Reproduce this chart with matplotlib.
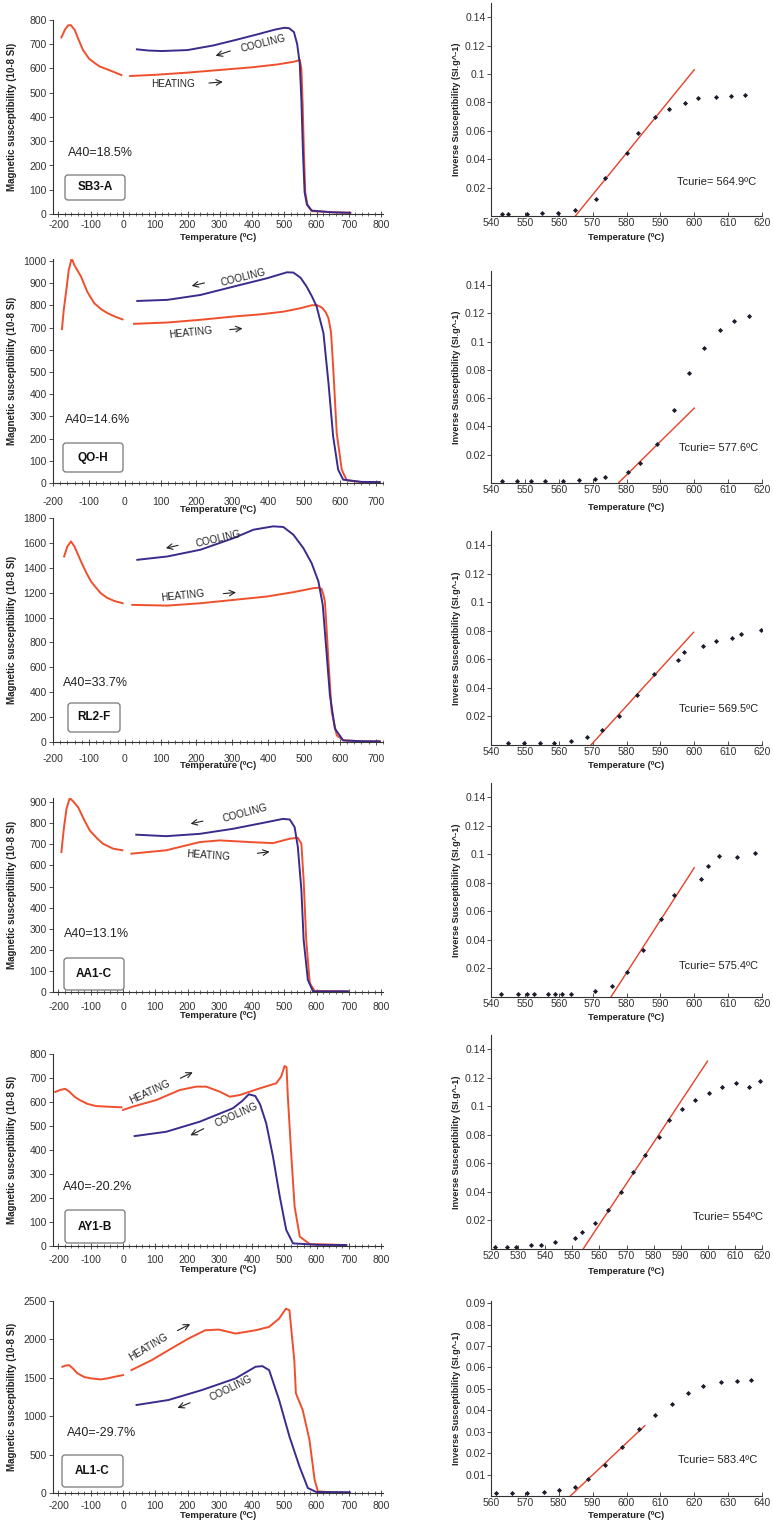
import matplotlib.pyplot as plt
from matplotlib.patches import FancyBboxPatch
from matplotlib.ticker import MultipleLocator
from matplotlib.transforms import IdentityTransform

plt.rcParams['font.family'] = ['Liberation Sans', 'DejaVu Sans']
plt.rcParams['axes.unicode_minus'] = False

W, H = 773, 1521
RED = '#ef4f2c'
BLUE = '#3b2b8c'
DOT = '#1c1c2c'

samples = ['SB3-A', 'QO-H', 'RL2-F', 'AA1-C', 'AY1-B', 'AL1-C']
a40_labels = ['A40=18.5%', 'A40=14.6%', 'A40=33.7%', 'A40=13.1%', 'A40=-20.2%', 'A40=-29.7%']
tcurie_labels = ['Tcurie= 564.9ºC', 'Tcurie= 577.6ºC', 'Tcurie= 569.5ºC',
                 'Tcurie= 575.4ºC', 'Tcurie= 554ºC', 'Tcurie= 583.4ºC']

# k-T curves (temperature ºC, susceptibility 10-8 SI)
sb3_low = [(-191, 728), (-180, 760), (-170, 778), (-162, 779), (-150, 760), (-138, 720), (-124, 676),
           (-105, 640), (-85, 620), (-72, 608), (-50, 597), (-31, 587), (-5, 573)]
sb3_heat = [(22, 569), (100, 574), (200, 583), (300, 594), (400, 605), (480, 617), (530, 628), (548, 635),
            (553, 600), (557, 450), (561, 250), (565, 90), (572, 35), (585, 12), (650, 7), (705, 5)]
sb3_cool = [(43, 679), (80, 674), (120, 672), (200, 676), (280, 695), (350, 718), (420, 742), (470, 760),
            (500, 768), (515, 766), (530, 750), (540, 700), (548, 620), (553, 470), (558, 250), (563, 90),
            (570, 40), (585, 14), (650, 7), (704, 5)]

qo_low = [(-175, 693), (-170, 780), (-164, 855), (-156, 960), (-148, 1012), (-140, 980), (-122, 930),
          (-104, 860), (-85, 810), (-66, 783), (-48, 765), (-25, 748), (-6, 737)]
qo_heat = [(26, 717), (119, 723), (210, 735), (304, 750), (380, 760), (443, 772), (489, 787), (520, 800),
           (535, 802), (550, 790), (560, 770), (568, 742), (575, 680), (581, 525), (591, 225), (605, 60),
           (619, 12), (660, 4), (711, 3)]
qo_cool = [(35, 820), (119, 825), (211, 847), (304, 885), (396, 922), (452, 949), (470, 948), (490, 925),
           (507, 885), (522, 840), (535, 795), (554, 675), (568, 450), (581, 210), (595, 60), (609, 15),
           (660, 5), (711, 4)]

rl2_low = [(-169, 1491), (-160, 1570), (-150, 1612), (-140, 1570), (-122, 1451), (-108, 1365), (-94, 1290),
           (-80, 1240), (-67, 1196), (-50, 1160), (-30, 1134), (-6, 1115)]
rl2_heat = [(21, 1102), (119, 1096), (211, 1115), (304, 1142), (396, 1169), (470, 1204), (526, 1236),
            (540, 1240), (549, 1230), (554, 1180), (558, 1128), (563, 900), (568, 645), (577, 242),
            (591, 54), (609, 13), (660, 6), (711, 5)]
rl2_cool = [(35, 1464), (119, 1491), (211, 1545), (304, 1639), (359, 1706), (414, 1733), (442, 1728),
            (470, 1666), (498, 1558), (521, 1437), (540, 1290), (552, 1102), (561, 779), (572, 376),
            (586, 107), (609, 13), (660, 6), (711, 5)]

aa1_low = [(-191, 664), (-183, 780), (-175, 870), (-165, 920), (-155, 905), (-139, 876), (-120, 815),
           (-103, 766), (-80, 728), (-62, 703), (-31, 680), (-2, 672)]
aa1_heat = [(26, 656), (134, 672), (238, 711), (300, 719), (393, 711), (465, 706), (517, 727), (542, 731),
            (553, 703), (560, 530), (568, 247), (579, 42), (594, 5), (697, 3)]
aa1_cool = [(41, 746), (134, 739), (238, 750), (341, 774), (444, 805), (496, 821), (517, 818), (532, 782),
            (542, 688), (553, 483), (560, 247), (573, 58), (589, 3), (697, 3)]

ay1_low = [(-210, 642), (-195, 650), (-180, 655), (-168, 645), (-150, 622), (-134, 608), (-110, 592),
           (-83, 583), (-40, 580), (-5, 578)]
ay1_heat = [(0, 567), (31, 581), (103, 608), (176, 650), (227, 664), (258, 664), (300, 643), (331, 622),
            (362, 629), (424, 657), (475, 678), (490, 705), (501, 750), (507, 745), (511, 622), (522, 372),
            (532, 164), (548, 39), (579, 8), (692, 4)]
ay1_cool = [(36, 458), (134, 476), (238, 518), (341, 574), (370, 605), (390, 632), (410, 625), (425, 590),
            (444, 511), (465, 372), (486, 206), (506, 67), (527, 11), (600, 5), (692, 4)]

al1_low = [(-188, 1644), (-177, 1660), (-167, 1665), (-155, 1620), (-141, 1557), (-120, 1510), (-99, 1492),
           (-68, 1479), (-45, 1495), (-26, 1514), (0, 1535)]
al1_heat = [(26, 1600), (89, 1730), (141, 1860), (203, 2011), (255, 2119), (297, 2128), (349, 2076),
            (411, 2119), (453, 2163), (484, 2271), (505, 2400), (516, 2379), (531, 1730), (536, 1298),
            (557, 1081), (578, 692), (594, 173), (604, 22), (650, 8), (703, 5)]
al1_cool = [(42, 1146), (141, 1211), (245, 1341), (349, 1492), (411, 1644), (432, 1652), (453, 1600),
            (484, 1211), (516, 735), (547, 346), (573, 65), (599, 13), (703, 9)]

# inverse susceptibility near Tc
sb3_inv_t = [543.2, 544.9, 550.7, 555.1, 559.8, 564.9, 571.1, 573.8, 580.2, 583.4, 588.5, 592.6, 597.3,
             601.1, 606.3, 610.9, 615.1]
sb3_inv = [0.0013, 0.0013, 0.0013, 0.0018, 0.0022, 0.0043, 0.0123, 0.0270, 0.0443, 0.0586, 0.0694, 0.0757,
           0.0799, 0.0829, 0.0839, 0.0843, 0.0853]
sb3_fit = [(564.9, 0.0), (600.0, 0.103)]

qo_inv_t = [543.2, 547.6, 551.9, 556.0, 561.4, 566.0, 570.6, 573.6, 580.3, 584.0, 588.9, 594.0, 598.5,
            602.9, 607.7, 611.8, 616.3]
qo_inv = [0.0014, 0.0014, 0.0014, 0.0014, 0.0014, 0.0019, 0.0026, 0.0044, 0.0075, 0.0140, 0.0277, 0.0520,
          0.0776, 0.0958, 0.1083, 0.1143, 0.1184]
qo_fit = [(577.6, 0.0), (600.0, 0.053)]

rl2_inv_t = [544.9, 549.7, 554.6, 558.5, 563.5, 568.4, 572.9, 577.8, 583.1, 588.1, 595.3, 597.1, 602.7,
             606.5, 611.1, 613.9, 619.8]
rl2_inv = [0.0012, 0.0012, 0.0014, 0.0016, 0.0030, 0.0059, 0.0105, 0.0206, 0.0352, 0.0499, 0.0595, 0.0654,
           0.0694, 0.0727, 0.0750, 0.0776, 0.0804]
rl2_fit = [(569.5, 0.0), (599.8, 0.079)]

aa1_inv_t = [543.0, 547.9, 550.5, 552.8, 556.8, 559.0, 561.0, 563.7, 570.6, 575.8, 580.0, 584.9, 590.1,
             594.0, 602.1, 604.0, 607.3, 612.7, 617.9]
aa1_inv = [0.0020, 0.0020, 0.0020, 0.0020, 0.0020, 0.0020, 0.0020, 0.0020, 0.0040, 0.0079, 0.0172, 0.0331,
           0.0550, 0.0713, 0.0829, 0.0918, 0.0986, 0.0979, 0.1007]
aa1_fit = [(575.4, 0.0), (600.0, 0.0906)]

ay1_inv_t = [521.5, 525.8, 529.3, 534.8, 538.3, 543.5, 550.9, 553.7, 558.3, 563.1, 567.9, 572.3, 576.9,
             582.0, 585.8, 590.6, 595.4, 600.4, 605.4, 610.4, 615.2, 619.4]
ay1_inv = [0.0016, 0.0016, 0.0016, 0.0026, 0.0030, 0.0049, 0.0077, 0.0120, 0.0180, 0.0270, 0.0403, 0.0539,
           0.0661, 0.0783, 0.0902, 0.0984, 0.1043, 0.1092, 0.1139, 0.1164, 0.1136, 0.1176]
ay1_fit = [(554.0, 0.0), (599.9, 0.1317)]

al1_inv_t = [561.4, 566.3, 570.6, 575.5, 580.1, 584.7, 588.6, 593.8, 598.7, 603.7, 608.4, 613.3, 618.3,
             622.6, 627.9, 632.5, 636.7]
al1_inv = [0.0012, 0.0012, 0.0016, 0.0019, 0.0026, 0.0042, 0.0079, 0.0143, 0.0230, 0.0312, 0.0377, 0.0429,
           0.0482, 0.0514, 0.0534, 0.0536, 0.0542]
al1_fit = [(583.4, 0.0), (605.4, 0.0328)]

lows = [sb3_low, qo_low, rl2_low, aa1_low, ay1_low, al1_low]
heats = [sb3_heat, qo_heat, rl2_heat, aa1_heat, ay1_heat, al1_heat]
cools = [sb3_cool, qo_cool, rl2_cool, aa1_cool, ay1_cool, al1_cool]
inv_ts = [sb3_inv_t, qo_inv_t, rl2_inv_t, aa1_inv_t, ay1_inv_t, al1_inv_t]
invs = [sb3_inv, qo_inv, rl2_inv, aa1_inv, ay1_inv, al1_inv]
fits = [sb3_fit, qo_fit, rl2_fit, aa1_fit, ay1_fit, al1_fit]

# layout (pixels from top-left): left panel top, bottom, ymax, xlim, ystep, tick pad, xlabel offset
left_box = [(20, 214, 800, (-217, 806), 100, 2, 24),
            (259, 483, 1009, (-200, 720), 100, 8, 27),
            (518, 742, 1800, (-200, 720), 200, 6.5, 24),
            (798, 992, 920, (-217, 806), 100, 5, 23),
            (1054, 1246, 800, (-217, 806), 100, 4.5, 24),
            (1301, 1493, 2500, (-217, 806), 500, 3.5, 22)]
right_box = [(3, 216, 0.15, (540, 620), 0.02, 21),
             (271, 483, 0.15, (540, 620), 0.02, 24),
             (531, 745, 0.15, (540, 620), 0.02, 21),
             (783, 997, 0.15, (540, 620), 0.02, 20),
             (1035, 1249, 0.15, (520, 620), 0.02, 22),
             (1301, 1496, 0.091, (560, 640), 0.01, 19)]
sample_box = [(65, 175, 125, 200), (63, 443, 123, 472), (68, 703, 120, 732),
              (64, 958, 124, 990), (65, 1210, 125, 1243), (62, 1455, 123, 1487)]
a40_pos = [(68, 153), (65, 420), (63, 683), (64, 934), (63, 1187), (67, 1433)]
# (cooling text x, y, rot), (arrow tail, head), (heating text x, y, rot), (arrow tail, head)
notes = [((434, 704, 14), ((341, 676), (279, 649)), (155, 538, 0), ((258, 539), (318, 546))),
         ((331, 926, 14), ((230, 904), (179, 885)), (183, 679, 6), ((285, 690), (336, 697))),
         ((262, 1633, 13), ((156, 1585), (107, 1553)), (160, 1177, 6), ((267, 1190), (318, 1204))),
         ((377, 848, 15), ((256, 813), (201, 795)), (263, 645, -4), ((408, 656), (463, 667))),
         ((351, 546, 24), ((258, 494), (201, 456)), (83, 643, 25), ((170, 694), (224, 729))),
         ((333, 1362, 26), ((216, 1189), (161, 1094)), (78, 1894, 31), ((161, 2098), (216, 2215)))]
tcurie_pos = [(606.7, 0.024), (607.2, 0.025), (607.2, 0.025), (607.2, 0.022), (607.3, 0.0227), (626.9, 0.0169)]

fig = plt.figure(figsize=(W / 100, H / 100), dpi=100)


def add_ax(x0, x1, top, bottom):
    return fig.add_axes([x0 / W, 1 - bottom / H, (x1 - x0) / W, (bottom - top) / H])


def style(ax):
    for s in ['top', 'right']:
        ax.spines[s].set_visible(False)
    for s in ['left', 'bottom']:
        ax.spines[s].set_color('#333333')
        ax.spines[s].set_linewidth(0.8)
    ax.tick_params(labelsize=7.5, colors='#333333', width=0.6)


for i in range(6):
    # left: k-T curve
    top, bottom, ymax, xl, ystep, pad, xoff = left_box[i]
    ax = add_ax(53, 383, top, bottom)
    style(ax)
    for seg, col in [(lows[i], RED), (heats[i], RED), (cools[i], BLUE)]:
        ax.plot([p[0] for p in seg], [p[1] for p in seg], color=col, lw=1.4, solid_joinstyle='round')
    ax.set_xlim(*xl)
    ax.set_ylim(0, ymax)
    ax.xaxis.set_minor_locator(MultipleLocator(20))
    ax.yaxis.set_major_locator(MultipleLocator(ystep))
    ax.set_xticks([t for t in range(-200, 900, 100) if t <= xl[1]])
    ax.tick_params(axis='x', which='major', direction='inout', length=4, pad=pad)
    ax.tick_params(axis='x', which='minor', direction='inout', length=2.5, width=0.5, colors='#333333')
    ax.tick_params(axis='y', direction='out', length=3, pad=1.5)
    ax.set_xlabel('Temperature (ºC)', fontsize=6.8, fontweight='bold', va='center', color='#222222')
    ax.xaxis.set_label_coords(0.5, -xoff / (bottom - top))
    ax.set_ylabel('Magnetic susceptibility (10-8 SI)', fontsize=7, fontweight='bold', color='#222222')
    ax.yaxis.set_label_coords((17 - 53) / 330, 0.5)

    (cx, cy, cr), (ct, chd), (hx, hy, hr), (ht, hhd) = notes[i]
    ax.text(cx, cy, 'COOLING', fontsize=7.2, rotation=cr, ha='center', va='center',
            rotation_mode='anchor', color='#222222')
    ax.text(hx, hy, 'HEATING', fontsize=7.2, rotation=hr, ha='center', va='center',
            rotation_mode='anchor', color='#222222')
    ax.annotate('', xy=chd, xytext=ct, arrowprops=dict(arrowstyle='->', color='#222222', lw=0.8))
    ax.annotate('', xy=hhd, xytext=ht, arrowprops=dict(arrowstyle='->', color='#222222', lw=0.8))

    ax_x, ax_y = a40_pos[i]
    fig.text(ax_x / W, 1 - ax_y / H, a40_labels[i], fontsize=9, ha='left', va='center', color='#222222')

    bx0, by0, bx1, by1 = sample_box[i]
    fig.add_artist(FancyBboxPatch((bx0, H - by1), bx1 - bx0, by1 - by0,
                                  boxstyle='round,pad=0,rounding_size=3', transform=IdentityTransform(),
                                  fc='white', ec='#777777', lw=0.9))
    fig.text((bx0 + bx1) / 2 / W, 1 - (by0 + by1) / 2 / H, samples[i], fontsize=8.5, fontweight='bold',
             ha='center', va='center', color='#111111')

    # right: inverse susceptibility
    rtop, rbottom, rymax, rxl, rstep, rxoff = right_box[i]
    rx = add_ax(491, 762, rtop, rbottom)
    style(rx)
    rx.plot([fits[i][0][0], fits[i][1][0]], [fits[i][0][1], fits[i][1][1]], color='#e8402a', lw=1.0)
    rx.plot(inv_ts[i], invs[i], 'D', color=DOT, markersize=2.6, markeredgewidth=0)
    rx.set_xlim(*rxl)
    rx.set_ylim(0, rymax)
    rx.xaxis.set_major_locator(MultipleLocator(10))
    n = 7 if rstep == 0.02 else 9
    rx.set_yticks([rstep * (k + 1) for k in range(n)])
    rx.set_yticklabels([f'{rstep * (k + 1):g}' for k in range(n)])
    rx.tick_params(axis='x', direction='in', length=3, pad=1.5)
    rx.tick_params(axis='y', direction='out', length=3, pad=1)
    rx.set_xlabel('Temperature (ºC)', fontsize=6.8, fontweight='bold', va='center', color='#222222')
    rx.xaxis.set_label_coords(0.5, -rxoff / (rbottom - rtop))
    rx.set_ylabel('Inverse Susceptibility (SI.g^-1)', fontsize=6.6, fontweight='bold', color='#222222')
    rx.yaxis.set_label_coords((461 - 491) / 271, 0.5)
    rx.text(tcurie_pos[i][0], tcurie_pos[i][1], tcurie_labels[i], fontsize=8, ha='center', va='center',
            color='#222222')

fig.savefig('out.png', dpi=100)
